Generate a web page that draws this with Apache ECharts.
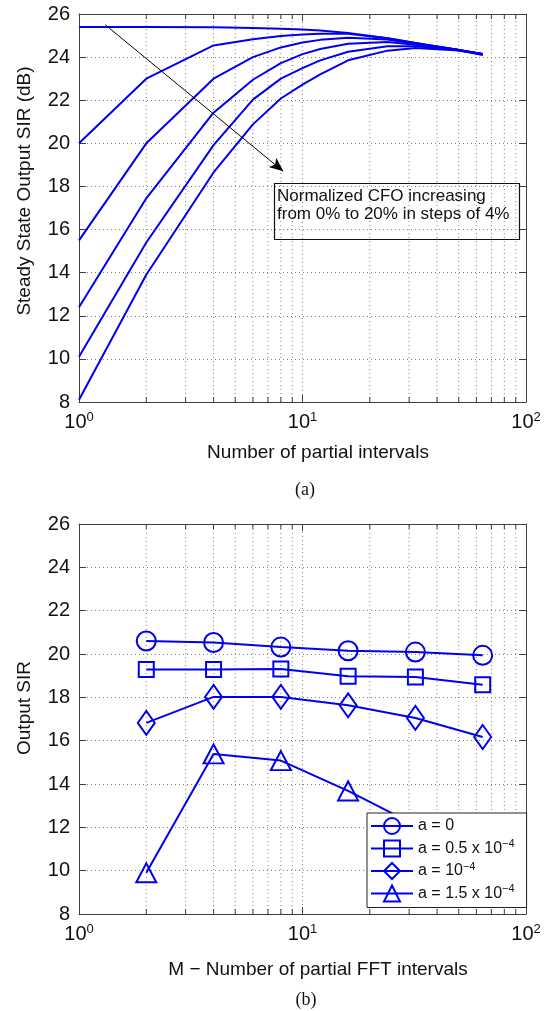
<!DOCTYPE html>
<html>
<head>
<meta charset="utf-8">
<script src="https://cdn.jsdelivr.net/npm/echarts@6/dist/echarts.min.js"></script>
<style>
html,body{margin:0;padding:0;background:#fff;}
#chart{width:558px;height:1011px;}
</style>
</head>
<body>
<div id="chart"></div>
<script>
// ---------- data (top chart: SIR vs partial intervals, CFO 0..20%) ----------
const xTop = [1, 2, 4, 6, 8, 10, 12, 16, 24, 32, 48, 64];
const cfo0  = [25.4, 25.4, 25.38, 25.35, 25.32, 25.28, 25.24, 25.12, 24.88, 24.65, 24.35, 24.1];
const cfo4  = [20.0, 23.0, 24.54, 24.83, 24.98, 25.05, 25.08, 25.08, 24.88, 24.65, 24.36, 24.12];
const cfo8  = [15.5, 20.0, 23.0, 24.0, 24.45, 24.68, 24.8, 24.9, 24.82, 24.62, 24.37, 24.13];
const cfo12 = [12.4, 17.45, 21.42, 22.95, 23.72, 24.14, 24.38, 24.62, 24.7, 24.57, 24.36, 24.14];
const cfo16 = [10.1, 15.4, 19.92, 22.03, 23.0, 23.49, 23.85, 24.25, 24.5, 24.5, 24.35, 24.15];
const cfo20 = [8.1, 13.9, 18.65, 20.88, 22.08, 22.72, 23.2, 23.85, 24.3, 24.42, 24.32, 24.15];
const topSeries = [cfo0, cfo4, cfo8, cfo12, cfo16, cfo20];
const topNames = ['CFO 0%', 'CFO 4%', 'CFO 8%', 'CFO 12%', 'CFO 16%', 'CFO 20%'];
const arrowFrom = [1.31, 25.5];
const arrowTo = [8.2, 18.7];
const noteLines = ['Normalized CFO increasing', 'from 0% to 20% in steps of 4%'];

// ---------- data (bottom chart: output SIR vs M) ----------
const xBot = [2, 4, 8, 16, 32, 64];
const a0   = [20.6, 20.53, 20.32, 20.15, 20.09, 19.94];
const a05  = [19.28, 19.28, 19.31, 18.97, 18.94, 18.58];
const a10  = [16.82, 18.02, 18.02, 17.63, 17.05, 16.17];
const a15  = [9.9, 15.39, 15.08, 13.68, 12.1, 10.9];
const botSeries = [a0, a05, a10, a15];
const botNames = ['a = 0', 'a = 0.5 x 10^-4', 'a = 10^-4', 'a = 1.5 x 10^-4'];
const botSymbols = ['circle', 'rect', 'diamond', 'triangle'];
const botSymbolSizes = [19, 15, [17, 24], [20, 19]];

// ---------- axes ----------
const yMin = 8, yMax = 26, yInterval = 2;
const xMin = 1, xMax = 100;
const minorX = [2, 3, 4, 5, 6, 7, 8, 9, 20, 30, 40, 50, 60, 70, 80, 90];

const BLUE = '#0000f0';
const FRAME = '#404040';
const GRIDC = '#808080';
const SANS = '"Liberation Sans", Arial, Helvetica, sans-serif';

const chart = echarts.init(document.getElementById('chart'), null, {renderer: 'canvas'});

function pair(xs, ys) { return xs.map((x, i) => [x, ys[i]]); }

function xAxisDef(gi, pos, labels) {
  return {
    type: 'log', logBase: 10, gridIndex: gi, position: pos, min: xMin, max: xMax,
    axisLine: {show: true, onZero: false, lineStyle: {color: FRAME, width: 1}},
    axisTick: {show: true, inside: true, length: 7, lineStyle: {color: FRAME}},
    axisLabel: labels ? {
      show: true, margin: 9,
      formatter: v => '{b|10}{s|' + Math.round(Math.log10(v)) + '}',
      rich: {
        b: {fontSize: 20, fontFamily: SANS, color: '#111', lineHeight: 22},
        s: {fontSize: 13, fontFamily: SANS, color: '#111', lineHeight: 13, verticalAlign: 'top'}
      }
    } : {show: false},
    splitLine: {show: labels, lineStyle: {color: GRIDC, type: [1, 3], width: 1}}
  };
}
function yAxisDef(gi, pos, labels) {
  return {
    type: 'value', gridIndex: gi, position: pos, min: yMin, max: yMax, interval: yInterval,
    axisLine: {show: true, onZero: false, lineStyle: {color: FRAME, width: 1}},
    axisTick: {show: true, inside: true, length: 7, lineStyle: {color: FRAME}},
    axisLabel: labels ? {show: true, margin: 9, fontSize: 20, fontFamily: SANS, color: '#111'} : {show: false},
    splitLine: {show: labels, lineStyle: {color: GRIDC, type: [1, 3], width: 1}}
  };
}

function minorSeries(xi, yi) {
  return {
    type: 'custom', xAxisIndex: xi, yAxisIndex: yi, silent: true, z: 1,
    data: minorX.map(v => [v, yMin]),
    encode: {x: 0, y: 1},
    renderItem: function (params, api) {
      const v = api.value(0);
      const pb = api.coord([v, yMin]);
      const pt = api.coord([v, yMax]);
      return {
        type: 'group',
        children: [
          {type: 'line', shape: {x1: pb[0], y1: pb[1], x2: pt[0], y2: pt[1]},
           style: {stroke: GRIDC, lineWidth: 1, lineDash: [1, 3]}},
          {type: 'line', shape: {x1: pb[0], y1: pb[1], x2: pb[0], y2: pb[1] - 5},
           style: {stroke: FRAME, lineWidth: 1}},
          {type: 'line', shape: {x1: pt[0], y1: pt[1], x2: pt[0], y2: pt[1] + 5},
           style: {stroke: FRAME, lineWidth: 1}}
        ]
      };
    }
  };
}

const series = [];
series.push(minorSeries(0, 0));
series.push(minorSeries(2, 2));

topSeries.forEach((ys, i) => {
  const s = {
    type: 'line', name: topNames[i], xAxisIndex: 0, yAxisIndex: 0, z: 3,
    data: pair(xTop, ys), showSymbol: false, symbol: 'none', smooth: false,
    lineStyle: {color: BLUE, width: 2}, itemStyle: {color: BLUE},
    silent: true
  };
  if (i === 0) {
    s.markLine = {
      silent: true, symbol: ['none', 'arrow'], symbolSize: [9, 14],
      label: {show: false},
      lineStyle: {color: '#000', width: 1, type: 'solid'},
      emphasis: {disabled: true},
      data: [[{coord: arrowFrom}, {coord: arrowTo}]]
    };
  }
  series.push(s);
});

botSeries.forEach((ys, i) => {
  series.push({
    type: 'line', name: botNames[i], xAxisIndex: 2, yAxisIndex: 2, z: 3,
    data: pair(xBot, ys), showSymbol: true,
    symbol: botSymbols[i], symbolSize: botSymbolSizes[i],
    lineStyle: {color: BLUE, width: 2},
    itemStyle: {color: 'rgba(255,255,255,0)', borderColor: BLUE, borderWidth: 2},
    silent: true
  });
});

function legendFmt(name) {
  const m = name.match(/^(.*)10\^(-?\d+)$/);
  if (m) return '{n|' + m[1] + '10}{s|' + m[2].replace('-', '\u2212') + '}';
  return '{n|' + name + '}';
}

const option = {
  animation: false,
  backgroundColor: '#fff',
  grid: [
    {left: 79, top: 14, width: 447, height: 388, containLabel: false},
    {left: 79, top: 524, width: 447, height: 390, containLabel: false}
  ],
  xAxis: [
    xAxisDef(0, 'bottom', true), xAxisDef(0, 'top', false),
    xAxisDef(1, 'bottom', true), xAxisDef(1, 'top', false)
  ],
  yAxis: [
    yAxisDef(0, 'left', true), yAxisDef(0, 'right', false),
    yAxisDef(1, 'left', true), yAxisDef(1, 'right', false)
  ],
  legend: {
    data: botNames, orient: 'vertical', left: 367, top: 813,
    itemWidth: 42, itemHeight: 20, itemGap: 3.5,
    padding: [4, 12, 5, 3],
    backgroundColor: '#fff', borderColor: '#222', borderWidth: 1,
    selectedMode: false,
    formatter: legendFmt,
    textStyle: {
      rich: {
        n: {fontSize: 16, fontFamily: SANS, color: '#111', lineHeight: 20},
        s: {fontSize: 11, fontFamily: SANS, color: '#111', lineHeight: 11, verticalAlign: 'top'}
      }
    }
  },
  graphic: [
    {type: 'rect', left: 272, top: 181, shape: {width: 245, height: 56}, z: 10,
     style: {fill: 'none', stroke: '#111', lineWidth: 1.2}},
    {type: 'text', left: 277, top: 187, z: 11,
     style: {text: noteLines.join('\n'), font: '17px ' + SANS, fill: '#111', lineHeight: 18}},
    {type: 'text', x: 25, y: 191, rotation: Math.PI / 2, z: 11,
     style: {text: 'Steady State Output SIR (dB)', font: '19px ' + SANS, fill: '#111',
             align: 'center', verticalAlign: 'middle'}},
    {type: 'text', x: 318, y: 453, z: 11,
     style: {text: 'Number of partial intervals', font: '19px ' + SANS, fill: '#111',
             align: 'center', verticalAlign: 'middle'}},
    {type: 'text', x: 305, y: 490, z: 11,
     style: {text: '(a)', font: '18px "Liberation Serif", "Times New Roman", serif', fill: '#111',
             align: 'center', verticalAlign: 'middle'}},
    {type: 'text', x: 25, y: 708, rotation: Math.PI / 2, z: 11,
     style: {text: 'Output SIR', font: '19px ' + SANS, fill: '#111',
             align: 'center', verticalAlign: 'middle'}},
    {type: 'text', x: 318, y: 970, z: 11,
     style: {text: 'M \u2212 Number of partial FFT intervals', font: '19px ' + SANS, fill: '#111',
             align: 'center', verticalAlign: 'middle'}},
    {type: 'text', x: 306, y: 1000, z: 11,
     style: {text: '(b)', font: '18px "Liberation Serif", "Times New Roman", serif', fill: '#111',
             align: 'center', verticalAlign: 'middle'}}
  ],
  series: series
};
chart.setOption(option);
</script>
</body>
</html>
